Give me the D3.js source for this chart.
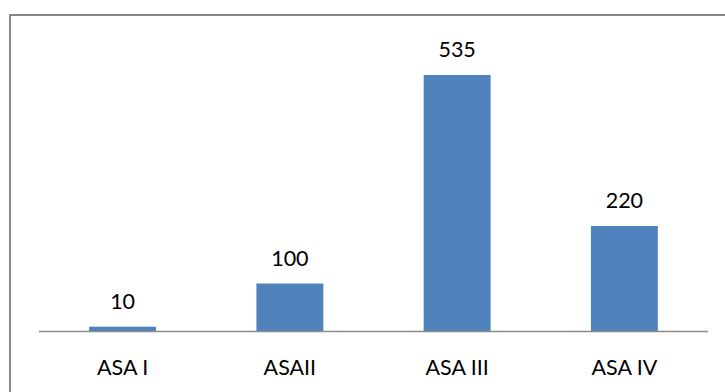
<!DOCTYPE html>
<html>
<head>
<meta charset="utf-8">
<script src="https://cdn.jsdelivr.net/npm/d3@7/dist/d3.min.js"></script>
<style>
  html, body { margin: 0; padding: 0; background: #fff; }
  svg { display: block; }
</style>
</head>
<body>
<svg id="chart" width="725" height="392"></svg>
<script>
const categories = ["ASA I", "ASAII", "ASA III", "ASA IV"];
const values = [10, 100, 535, 220];

const svg = d3.select("#chart");
const W = 725, H = 392;
const font = "Lato, 'Open Sans', sans-serif";
const fontSize = 21.5;

// chart area frame (extends past right/bottom edges)
svg.append("rect")
  .attr("x", 10).attr("y", 15)
  .attr("width", W + 20).attr("height", H + 20)
  .attr("fill", "#fff")
  .attr("stroke", "#878787")
  .attr("stroke-width", 2);

const plot = { left: 39, right: 708, base: 331.5 };

const x = d3.scaleBand()
  .domain(categories)
  .range([plot.left, plot.right])
  .paddingInner(0.6)
  .paddingOuter(0.3);

const y = d3.scaleLinear()
  .domain([0, 600])
  .range([plot.base, plot.base - 287.7]);

svg.append("g")
  .selectAll("rect")
  .data(values)
  .join("rect")
  .attr("x", (d, i) => x(categories[i]))
  .attr("width", x.bandwidth())
  .attr("y", d => y(d))
  .attr("height", d => y(0) - y(d))
  .attr("fill", "#4F81BD");

// category axis
const axis = svg.append("g")
  .attr("transform", `translate(0,${plot.base})`)
  .call(d3.axisBottom(x).tickSize(0).tickPadding(0));
axis.select(".domain")
  .attr("stroke", "#8c8c8c")
  .attr("stroke-width", 1.5)
  .attr("d", `M${plot.left},0H${plot.right}`);
axis.selectAll(".tick text")
  .attr("y", 43.5)
  .attr("dy", null)
  .attr("font-family", font)
  .attr("font-size", fontSize)
  .attr("fill", "#000");

// value labels
svg.append("g")
  .selectAll("text")
  .data(values)
  .join("text")
  .attr("x", (d, i) => x(categories[i]) + x.bandwidth() / 2)
  .attr("y", d => y(d) - 18)
  .attr("text-anchor", "middle")
  .attr("font-family", font)
  .attr("font-size", fontSize)
  .attr("fill", "#000")
  .text(d => d);
</script>
</body>
</html>
